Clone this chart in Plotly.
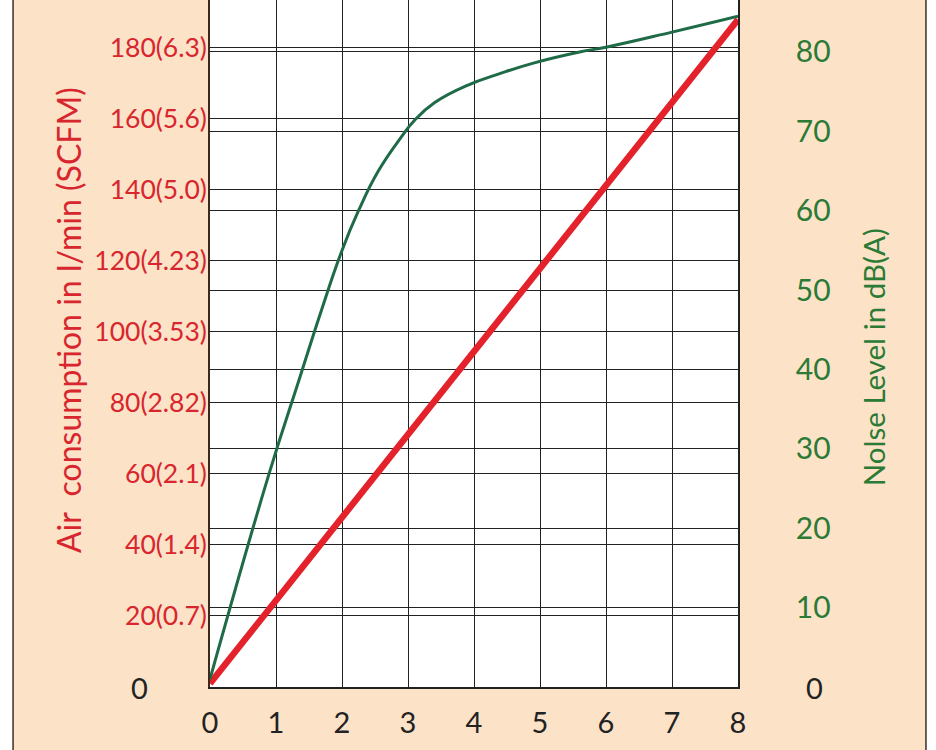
import plotly.graph_objects as go

# data
air_x = [0, 8]
air_y = [1, 188]

noise_x = [0, 0.9, 1.35, 1.67, 2.0, 2.25, 2.55, 2.9, 3.1, 3.4, 3.9, 4.4, 4.9, 5.6, 6.0, 7.0, 8.0]
noise_y = [1, 27, 38.7, 47, 55, 60, 65, 69.3, 71.4, 73.6, 75.8, 77.3, 78.6, 80, 80.6, 82.5, 84.5]

x_ticks = [0, 1, 2, 3, 4, 5, 6, 7, 8]
air_ticks = [0, 20, 40, 60, 80, 100, 120, 140, 160, 180]
air_labels = ["", "20(0.7)", "40(1.4)", "60(2.1)", "80(2.82)", "100(3.53)",
              "120(4.23)", "140(5.0)", "160(5.6)", "180(6.3)"]
noise_ticks = [0, 10, 20, 30, 40, 50, 60, 70, 80]
noise_labels = ["", "10", "20", "30", "40", "50", "60", "70", "80"]

RED = "#E3222B"
RED_TXT = "#D8262E"
GREEN = "#1F6B47"
GREEN_TXT = "#2B7A35"
PEACH = "#FCE3C8"
FONT = "Lato"

fig = go.Figure()
fig.add_trace(go.Scatter(x=air_x, y=air_y, mode="lines",
                         line=dict(color=RED, width=6.5), yaxis="y"))
fig.add_trace(go.Scatter(x=noise_x, y=noise_y, mode="lines",
                         line=dict(color=GREEN, width=3, shape="spline", smoothing=1.3),
                         yaxis="y2"))

fig.update_layout(
    width=936, height=750,
    margin=dict(l=210, r=198, t=0, b=63),
    paper_bgcolor="white",
    plot_bgcolor="rgba(0,0,0,0)",
    showlegend=False,
    font=dict(family=FONT),
    xaxis=dict(range=[0, 8], tickvals=x_ticks, ticks="", showgrid=True,
               gridcolor="#222222", gridwidth=1.2, zeroline=False,
               showline=True, linecolor="#222222", linewidth=1.5,
               tickfont=dict(size=29, color="#222222"), ticklabelstandoff=9),
    yaxis=dict(range=[0, 193.5], tickvals=air_ticks, ticktext=air_labels, ticks="",
               showgrid=True, gridcolor="#222222", gridwidth=1.2, zeroline=False,
               showline=True, linecolor="#3b2a1a", linewidth=1.5,
               tickfont=dict(size=26.5, color=RED_TXT), ticklabelstandoff=-4),
    yaxis2=dict(range=[0, 86.55], tickvals=noise_ticks, ticktext=noise_labels, ticks="",
                overlaying="y", side="right",
                showgrid=True, gridcolor="#222222", gridwidth=1.2, zeroline=False,
                showline=True, linecolor="#222222", linewidth=1.5,
                tickfont=dict(size=30, color=GREEN_TXT), ticklabelstandoff=50),
)

# backgrounds and frame
fig.add_shape(type="rect", xref="paper", yref="paper", x0=-0.373, x1=1.356,
              y0=-0.1, y1=1.0, fillcolor=PEACH, line_width=0, layer="below")
fig.add_shape(type="rect", xref="paper", yref="paper", x0=0, x1=1, y0=0, y1=1,
              fillcolor="white", line_width=0, layer="below")
for xp in (-0.373, 1.356):
    fig.add_shape(type="line", xref="paper", yref="paper", x0=xp, x1=xp,
                  y0=-0.1, y1=1.0, line=dict(color="#3b2f25", width=1.5))

# zero labels and axis titles
fig.add_annotation(text="0", xref="paper", yref="paper", x=-0.1326, y=0,
                   xanchor="center", yanchor="middle",
                   showarrow=False, font=dict(size=29, color="#222222"))
fig.add_annotation(text="0", xref="paper", yref="paper", x=1.144, y=0,
                   xanchor="center", yanchor="middle",
                   showarrow=False, font=dict(size=29, color="#222222"))
fig.add_annotation(text="Air\u00a0 consumption in l/min (SCFM)", xref="paper", yref="paper",
                   x=-0.269, y=0.534, textangle=-90, showarrow=False,
                   xanchor="center", yanchor="middle",
                   font=dict(size=32, color=RED_TXT))
fig.add_annotation(text="Nolse Level in dB(A)", xref="paper", yref="paper",
                   x=1.2557, y=0.48, textangle=-90, showarrow=False,
                   xanchor="center", yanchor="middle",
                   font=dict(size=29.5, color=GREEN_TXT))

fig.write_html("out.html", config={"displayModeBar": False},
               post_script="document.body.style.margin='0';")
